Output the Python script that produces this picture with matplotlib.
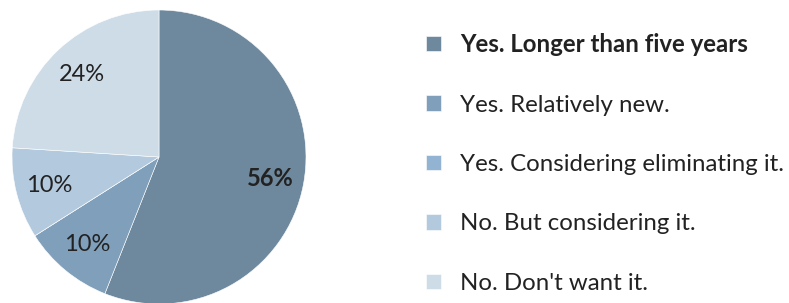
import matplotlib
matplotlib.use("Agg")
import matplotlib.pyplot as plt

## Data
labels = ['Yes. Longer than five years', 'Yes. Relatively new.',
          'Yes. Considering eliminating it.', 'No. But considering it.',
          "No. Don't want it."]
shares = [56, 10, 0, 10, 24]
colors = ['#6E899E', '#7F9FBA', '#92B4D2', '#B3C9DD', '#CEDCE7']

plt.rcParams['font.family'] = ['Lato', 'DejaVu Sans']

fig = plt.figure(figsize=(7.89, 3.03), dpi=100)
## Pie axes placed in pixels: centre (159,157), radius 147
ax = fig.add_axes([(159 - 147) / 789, (303 - 157 - 147) / 303, 294 / 789, 294 / 303])

def pct(v):
    return '' if v < 0.5 else '%d%%' % round(v)

wedges, texts, autotexts = ax.pie(shares, colors=colors, startangle=90, counterclock=False,
                                  autopct=pct, pctdistance=0.77, radius=1,
                                  wedgeprops=dict(edgecolor='white', linewidth=0.4),
                                  textprops=dict(fontsize=17, color='#222222'))
autotexts[0].set_fontweight('bold')
ax.set_xlim(-1, 1)
ax.set_ylim(-1, 1)
ax.set_aspect('equal')
ax.axis('off')

## Legend
leg = fig.legend(wedges, labels, loc='center left', bbox_to_anchor=(426 / 789, 1 - 163.5 / 303),
                 frameon=False, fontsize=17.3, handlelength=0.62, handleheight=0.62,
                 handletextpad=0.8, labelspacing=1.6, borderaxespad=0, borderpad=0)
for t in leg.get_texts():
    t.set_color('#222222')
leg.get_texts()[0].set_fontweight('bold')

fig.savefig('out.png', dpi=100)
